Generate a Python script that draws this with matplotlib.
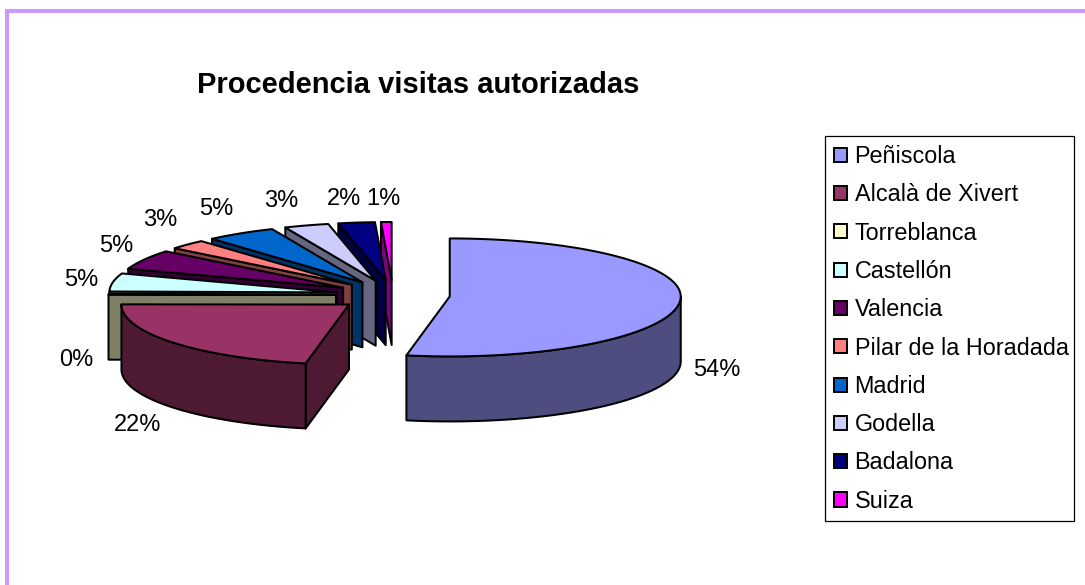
import numpy as np
import matplotlib
matplotlib.use("Agg")
import matplotlib.pyplot as plt
from matplotlib.patches import Polygon, Patch, Rectangle

plt.rcParams['font.family'] = ['Liberation Sans', 'DejaVu Sans']

# ---- data ----
categories = ["Peñiscola", "Alcalà de Xivert", "Torreblanca", "Castellón", "Valencia",
              "Pilar de la Horadada", "Madrid", "Godella", "Badalona", "Suiza"]
# shares as drawn (the reference's perspective squeezes the angles a little)
values = [53.05, 22.0, 0.2, 5.05, 5.5, 2.7, 5.0, 3.16, 2.59, 0.75]
pct_labels = ["54%", "22%", "0%", "5%", "5%", "3%", "5%", "3%", "2%", "1%"]
title = "Procedencia visitas autorizadas"

# ---- styles ----
top_colors = ["#9999FF", "#993366", "#FFFFCC", "#CCFFFF", "#660066",
              "#FF8080", "#0066CC", "#CCCCFF", "#000080", "#FF00FF"]
side_colors = ["#4D4D80", "#4D1933", "#808066", "#668080", "#330033",
               "#804040", "#003366", "#666680", "#000040", "#800080"]

# ---- layout (pixels) ----
CX, CY = 393.0, 295.0     # pie centre before explosion
RX_R, RX_L = 231.0, 227.5 # half widths to the right and left of the slice centre
RY_B, RY_F = 58.0, 60.0   # half heights toward the back and the front
EXPLODE_X, EXPLODE_Y = 57.0, 15.0
DEPTH = 65.0
LW = 1.45
FS = 17
label_nudge = [(37, 68), (-36, 82), (-32, 66), (-32, -2), (-28, -14),
               (-27, -25), (-24, -24), (-25, -24), (-13, -24), (-3, -23)]

fig = plt.figure(figsize=(10.85, 5.85), dpi=100, facecolor="white")
ax = fig.add_axes([0, 0, 1, 1])
ax.set_xlim(0, 1085)
ax.set_ylim(585, 0)
ax.axis("off")

ax.add_patch(Rectangle((7, 11), 1200, 800, facecolor="white", edgecolor="#CC99FF",
                       linewidth=2.9, zorder=0))


def plan(theta_deg):
    t = np.radians(theta_deg)
    s, c = np.sin(t), np.cos(t)
    return np.where(s < 0, RX_L, RX_R) * s, -np.where(c < 0, RY_F, RY_B) * c


total = float(np.sum(values))
edges = np.concatenate([[0.0], np.cumsum(values)]) / total * 360.0
mids = (edges[:-1] + edges[1:]) / 2


def centre(mid):
    t = np.radians(mid)
    return CX + EXPLODE_X * np.sin(t), CY - EXPLODE_Y * np.cos(t)


def add(pts, color, z):
    ax.add_patch(Polygon(pts, closed=True, facecolor=color, edgecolor="black",
                         linewidth=LW, joinstyle="round", zorder=z))


z = 2
for i in range(len(values) - 1, -1, -1):
    a0, a1 = edges[i], edges[i + 1]
    cx, cy = centre(mids[i])
    th = np.linspace(a0, a1, 80)
    dx, dy = plan(th)
    rim = np.column_stack([cx + dx, cy + dy])

    # straight cut faces that look toward the viewer
    for a, visible in ((a0, np.sin(np.radians(a0)) < 0), (a1, np.sin(np.radians(a1)) > 0)):
        if visible:
            ex, ey = plan(a)
            add([(cx, cy), (cx + ex, cy + ey), (cx + ex, cy + ey + DEPTH), (cx, cy + DEPTH)],
                side_colors[i], z)
            z += 1

    # outer wall on the front half of the ellipse
    lo, hi = max(a0, 90.0), min(a1, 270.0)
    if hi > lo:
        tw = np.linspace(lo, hi, 80)
        wx, wy = plan(tw)
        upper = np.column_stack([cx + wx, cy + wy])
        lower = upper[::-1] + np.array([0, DEPTH])
        add(np.vstack([upper, lower]), side_colors[i], z)
        z += 1

    # top face
    add(np.vstack([[(cx, cy)], rim]), top_colors[i], z)
    z += 1

# percentage labels
for i, lab in enumerate(pct_labels):
    cx, cy = centre(mids[i])
    ex, ey = plan(mids[i])
    nx, ny = label_nudge[i]
    ax.text(cx + ex + nx, cy + ey + ny, lab, fontsize=FS,
            ha="center", va="center", color="black", zorder=100)

ax.text(418, 85, title, fontsize=21, fontweight="bold", ha="center", va="center",
        color="black", zorder=100)

# legend
ax.add_patch(Rectangle((824.5, 135.5), 249.5, 385, facecolor="white", edgecolor="black",
                       linewidth=0.9, zorder=50))
handles = [Patch(facecolor=c, edgecolor="black", linewidth=1.4) for c in top_colors]
leg = ax.legend(handles, categories, loc="upper left", bbox_to_anchor=(834, 145),
                bbox_transform=ax.transData, frameon=False, fontsize=16.85,
                borderpad=0, borderaxespad=0, handlelength=0.55, handleheight=0.55,
                handletextpad=0.33, labelspacing=0.654, labelcolor="black")
leg.set_zorder(60)

fig.savefig("out.png", dpi=100, facecolor="white")
